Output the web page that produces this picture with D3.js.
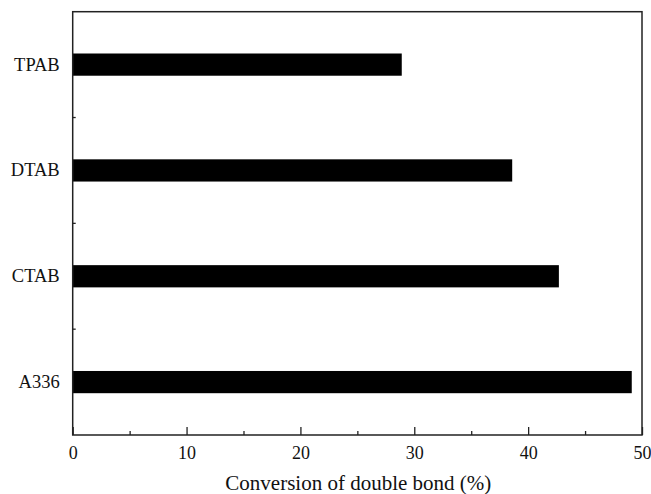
<!DOCTYPE html>
<html>
<head>
<meta charset="utf-8">
<script src="https://cdn.jsdelivr.net/npm/d3@7"></script>
<style>
  html, body { margin: 0; padding: 0; background: #fff; }
  svg { display: block; }
  text { font-family: "Liberation Serif", "Times New Roman", serif; fill: #111; }
</style>
</head>
<body>
<svg id="chart" width="651" height="494"></svg>
<script>
// Catalyst types and their double-bond conversion (%)
const categories = ["TPAB", "DTAB", "CTAB", "A336"];
const conversion = [28.9, 38.6, 42.7, 49.1];
const xTicks = [0, 10, 20, 30, 40, 50];
const xMinorTicks = [5, 15, 25, 35, 45];
const xTitle = "Conversion of double bond (%)";

const W = 651, H = 494;
const margin = { top: 11.7, right: 9, bottom: 59, left: 72.7 };
const iw = W - margin.left - margin.right;
const ih = H - margin.top - margin.bottom;

const svg = d3.select("#chart");
const g = svg.append("g").attr("transform", `translate(${margin.left},${margin.top})`);

const x = d3.scaleLinear().domain([0, 50]).range([0, iw]);
const y = d3.scaleBand().domain(categories).range([0, ih])
  .paddingInner(0.79).paddingOuter(0.395);

// bars
g.selectAll("rect.bar")
  .data(categories.map((c, i) => ({ c, v: conversion[i] })))
  .join("rect")
  .attr("class", "bar")
  .attr("x", x(0))
  .attr("y", d => y(d.c))
  .attr("width", d => x(d.v) - x(0))
  .attr("height", y.bandwidth())
  .attr("fill", "#000");

const axisColor = "#222";

// bottom axis: major ticks inward with labels
const xAxis = g.append("g").attr("transform", `translate(0,${ih})`)
  .call(d3.axisBottom(x).tickValues(xTicks).tickSizeInner(-8).tickSizeOuter(0).tickPadding(11).tickFormat(d3.format("d")));
xAxis.select(".domain").remove();
xAxis.selectAll(".tick line").attr("stroke", axisColor).attr("stroke-width", 1.3);
xAxis.selectAll(".tick text").style("font-size", "18px").attr("fill", "#111")
  .attr("font-family", "Liberation Serif, serif");

// minor ticks on x
const xMinor = g.append("g").attr("transform", `translate(0,${ih})`)
  .call(d3.axisBottom(x).tickValues(xMinorTicks).tickSizeInner(-4).tickSizeOuter(0).tickFormat(""));
xMinor.select(".domain").remove();
xMinor.selectAll(".tick line").attr("stroke", axisColor).attr("stroke-width", 1.3);

// left axis: category labels, no ticks at label positions
const yAxis = g.append("g")
  .call(d3.axisLeft(y).tickSize(0).tickPadding(13));
yAxis.select(".domain").remove();
yAxis.selectAll(".tick text").style("font-size", "18.5px").attr("fill", "#111")
  .attr("font-family", "Liberation Serif, serif");

// small inward ticks between categories
const boundaries = categories.slice(1).map(c => y(c) - y.step() * y.paddingInner() / 2);
g.selectAll("line.ysep")
  .data(boundaries)
  .join("line")
  .attr("class", "ysep")
  .attr("x1", 0).attr("x2", 3)
  .attr("y1", d => d).attr("y2", d => d)
  .attr("stroke", axisColor).attr("stroke-width", 1.3);

// frame
g.append("rect")
  .attr("x", 0).attr("y", 0).attr("width", iw).attr("height", ih)
  .attr("fill", "none").attr("stroke", axisColor).attr("stroke-width", 1.5);

// x axis title
svg.append("text")
  .attr("x", margin.left + iw / 2 + 1)
  .attr("y", 490)
  .attr("text-anchor", "middle")
  .style("font-size", "21px")
  .text(xTitle);
</script>
</body>
</html>
